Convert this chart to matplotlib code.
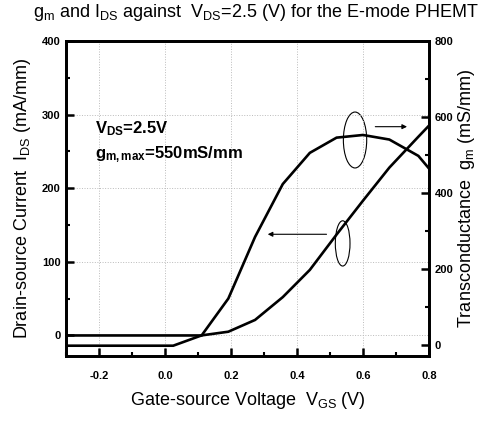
import matplotlib
matplotlib.use('Agg')
import numpy as np
import matplotlib.pyplot as plt
from matplotlib.patches import Ellipse

plt.rcParams['font.family'] = ['Liberation Sans', 'DejaVu Sans']
plt.rcParams['mathtext.fontset'] = 'custom'
plt.rcParams['mathtext.rm'] = 'Liberation Sans'
plt.rcParams['mathtext.it'] = 'Liberation Sans'
plt.rcParams['mathtext.bf'] = 'Liberation Sans:bold'

# drain current I_DS (mA/mm) vs V_GS (V), left axis
vgs_ids = [-0.3, 0.025, 0.111, 0.192, 0.273, 0.357, 0.439, 0.52, 0.60, 0.68, 0.768, 0.8]
ids = [-14, -14, 0, 5, 21, 52, 89, 137, 183, 228, 270, 285]

# transconductance g_m (mS/mm) vs V_GS (V), right axis
vgs_gm = [-0.3, 0.111, 0.192, 0.273, 0.357, 0.439, 0.52, 0.60, 0.68, 0.768, 0.8]
gm = [26, 26, 123, 285, 424, 506, 546, 553, 541, 498, 465]

xticks = [-0.2, 0.0, 0.2, 0.4, 0.6, 0.8]
ids_ticks = [0, 100, 200, 300, 400]
gm_ticks = [0, 200, 400, 600, 800]

fig = plt.figure(figsize=(4.88, 4.22), dpi=100)
ax = fig.add_axes([0.1352, 0.1564, 0.879 - 0.1352, 0.9028 - 0.1564])
ax2 = ax.twinx()

ax.plot(vgs_ids, ids, 'k-', lw=1.9, solid_joinstyle='miter')
ax2.plot(vgs_gm, gm, 'k-', lw=1.9, solid_joinstyle='miter')

ax.set_xlim(-0.3, 0.8)
ax.set_ylim(-28, 400)
ax2.set_ylim(-28, 800)

ax.set_xticks(xticks)
ax.set_xticks(np.arange(-0.3, 0.81, 0.1), minor=True)
ax.set_xticklabels(['%.1f' % v for v in xticks], fontweight='bold', fontsize=8)
ax.set_yticks(ids_ticks)
ax.set_yticks([50, 150, 250, 350], minor=True)
ax.set_yticklabels([str(v) for v in ids_ticks], fontweight='bold', fontsize=8)
ax2.set_yticks(gm_ticks)
ax2.set_yticks([100, 300, 500, 700], minor=True)
ax2.set_yticklabels([str(v) for v in gm_ticks], fontweight='bold', fontsize=8)

for a in (ax, ax2):
    a.tick_params(which='major', direction='in', length=6, width=1.8)
    a.tick_params(which='minor', direction='in', length=3, width=1.5)
    for s in a.spines.values():
        s.set_linewidth(2)
ax.tick_params(top=False, which='both')
ax.tick_params(axis='x', pad=11)
ax.tick_params(axis='y', pad=4)
ax2.tick_params(pad=4)

ax.grid(True, which='major', color='#bbbbbb', linestyle=':', lw=0.7)

ax.set_xlabel(r'Gate-source Voltage  V$_\mathregular{GS}$ (V)', fontsize=13, labelpad=6)
ax.set_ylabel(r'Drain-source Current  I$_\mathregular{DS}$ (mA/mm)', fontsize=13, labelpad=6)
ax2.set_ylabel(r'Transconductance  g$_\mathregular{m}$ (mS/mm)', fontsize=13, labelpad=2)
fig.suptitle(r'g$_\mathregular{m}$ and I$_\mathregular{DS}$ against  V$_\mathregular{DS}$=2.5 (V) for the E-mode PHEMT',
             fontsize=13, x=0.525, y=0.995, va='top')

ax.text(-0.212, 281, r'V$_\mathregular{DS}$=2.5V', fontsize=12, fontweight='bold', va='center')
ax.text(-0.212, 246, r'g$_\mathregular{m,max}$=550mS/mm', fontsize=12, fontweight='bold', va='center')

ax.add_patch(Ellipse((0.576, 265.5), 0.0707, 76, fill=False, lw=0.8, color='k'))
ax.add_patch(Ellipse((0.5385, 125), 0.0445, 61.5, fill=False, lw=0.8, color='k'))
ax.annotate('', xy=(0.742, 283.6), xytext=(0.629, 283.6),
            arrowprops=dict(arrowstyle='-|>', lw=0.8, color='k', mutation_scale=7))
ax.annotate('', xy=(0.303, 137.4), xytext=(0.498, 137.4),
            arrowprops=dict(arrowstyle='-|>', lw=0.8, color='k', mutation_scale=7))

plt.savefig('out.png', dpi=100)
